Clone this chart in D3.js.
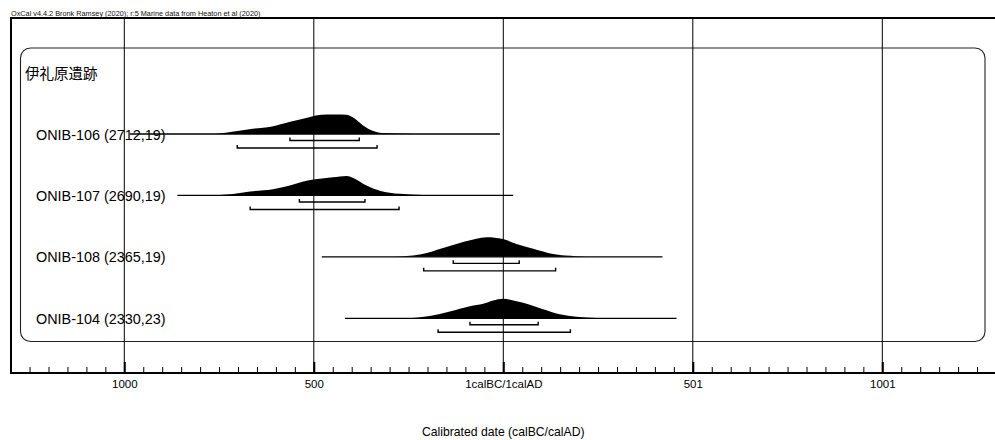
<!DOCTYPE html>
<html>
<head>
<meta charset="utf-8">
<script src="https://cdn.jsdelivr.net/npm/d3@7"></script>
<style>
body { margin: 0; background: #fff; }
text { font-family: "Liberation Sans", Arial, sans-serif; }
</style>
</head>
<body>
<script>
var canvasWidth = 995, canvasHeight = 440;

var groupName = "伊礼原遺跡";
var rowNames = ["ONIB-106 (2712,19)", "ONIB-107 (2690,19)", "ONIB-108 (2365,19)", "ONIB-104 (2330,23)"];
var rangeStart = [-985, -860, -479, -418];
var rangeEnd = [-9, 26, 420, 457];
var hpd68 = [[-563, -380], [-538, -365], [-132, 42], [-88, 92]];
var hpd95 = [[-702, -333], [-668, -275], [-210, 138], [-172, 177]];

var years106 = [-760, -715, -670, -610, -565, -520, -495, -465, -440, -415, -395, -370, -345, -320, -255, -210];
var prob106  = [0, 0.12, 0.25, 0.38, 0.61, 0.82, 0.95, 1.0, 1.0, 0.99, 0.83, 0.44, 0.17, 0.05, 0.015, 0];
var years107 = [-783, -713, -668, -608, -563, -519, -484, -450, -413, -397, -361, -326, -273, -212, -149];
var prob107  = [0, 0.07, 0.2, 0.32, 0.51, 0.75, 0.85, 0.93, 1.0, 0.91, 0.51, 0.24, 0.08, 0.025, 0];
var years108 = [-291, -220, -159, -115, -71, -44, -1, 35, 79, 131, 193, 246];
var prob108  = [0, 0.12, 0.46, 0.71, 0.93, 1.0, 0.91, 0.66, 0.42, 0.15, 0.035, 0];
var years104 = [-255, -194, -141, -88, -53, -27, -1, 35, 70, 105, 149, 193, 246, 289];
var prob104  = [0, 0.12, 0.35, 0.62, 0.74, 0.91, 1.0, 0.88, 0.7, 0.47, 0.21, 0.08, 0.015, 0];

var distYears = [years106, years107, years108, years104];
var distProbs = [prob106, prob107, prob108, prob104];

var majorTicks = [-1000, -500, 0, 500, 1000];
var majorLabels = ["1000", "500", "1calBC/1calAD", "501", "1001"];
var minorTicks = [-1250, -1200, -1150, -1100, -1050, -950, -900, -850, -800, -750, -700, -650, -600, -550,
                  -450, -400, -350, -300, -250, -200, -150, -100, -50,
                  50, 100, 150, 200, 250, 300, 350, 400, 450,
                  550, 600, 650, 700, 750, 800, 850, 900, 950,
                  1050, 1100, 1150, 1200, 1250];

var frameLeft = 11, frameTop = 18, axisY = 373;

var svg = d3.select("body")
			.append("svg")
			.attr("width", canvasWidth)
			.attr("height", canvasHeight);

var x = d3.scaleLinear().domain([-1000, 1000]).range([124.3, 882.3]);
var y = d3.scalePoint().domain(rowNames).range([134, 318.3]);
var h = d3.scaleLinear().domain([0, 1]).range([0, 19.5]);

// header
svg.append("text")
	.attr("x", 11)
	.attr("y", 16)
	.style("font-size", "7.3px")
	.style("fill", "#111")
	.text("OxCal v4.4.2 Bronk Ramsey (2020); r:5 Marine data from Heaton et al (2020)");

// rounded group box
svg.append("rect")
	.attr("x", 20.5)
	.attr("y", 48)
	.attr("width", 964.5)
	.attr("height", 293.5)
	.attr("rx", 10)
	.attr("ry", 10)
	.style("fill", "none")
	.style("stroke", "#222")
	.style("stroke-width", 1.1);

svg.append("text")
	.attr("x", 25)
	.attr("y", 78.5)
	.style("font-family", "'Noto Sans CJK JP', sans-serif")
	.style("font-size", "14.5px")
	.text(groupName);

// row labels
svg.selectAll(".rowLabel")
	.data(rowNames)
	.enter()
	.append("text")
	.attr("class", "rowLabel")
	.attr("x", 36)
	.attr("y", function(d) { return y(d) + 5.5; })
	.style("font-size", "14.4px")
	.text(function(d) { return d; });

// distributions
var area = d3.area()
	.x(function(d) { return x(d[0]); })
	.y0(0)
	.y1(function(d) { return -h(d[1]); })
	.curve(d3.curveMonotoneX);

rowNames.forEach(function(name, i) {
	var g = svg.append("g").attr("transform", "translate(0," + y(name) + ")");
	var pts = d3.zip(distYears[i], distProbs[i]);

	g.append("path")
		.attr("d", area(pts))
		.style("fill", "#000");

	g.append("line")
		.attr("x1", x(rangeStart[i]))
		.attr("x2", x(rangeEnd[i]))
		.attr("y1", 0)
		.attr("y2", 0)
		.style("stroke", "#000")
		.style("stroke-width", 1.3);

	[[hpd68[i], 6.5], [hpd95[i], 14]].forEach(function(b) {
		var r = b[0], off = b[1];
		g.append("path")
			.attr("d", "M" + x(r[0]) + "," + (off - 3) + "V" + off + "H" + x(r[1]) + "V" + (off - 3))
			.style("fill", "none")
			.style("stroke", "#000")
			.style("stroke-width", 1.4);
	});
});

// grid lines, drawn over the distributions
svg.selectAll(".grid")
	.data(majorTicks)
	.enter()
	.append("line")
	.attr("class", "grid")
	.attr("x1", function(d) { return x(d); })
	.attr("x2", function(d) { return x(d); })
	.attr("y1", frameTop)
	.attr("y2", axisY)
	.style("stroke", "#000")
	.style("stroke-width", 1);

// frame
svg.append("path")
	.attr("d", "M" + canvasWidth + "," + frameTop + "H" + frameLeft + "V" + axisY + "H" + canvasWidth)
	.style("fill", "none")
	.style("stroke", "#000")
	.style("stroke-width", 2);

// axis
var minorAxis = d3.axisBottom(x).tickValues(minorTicks).tickSize(-6).tickFormat("");
var majorAxis = d3.axisBottom(x).tickValues(majorTicks).tickSize(-11).tickPadding(7)
	.tickFormat(function(d, i) { return majorLabels[i]; });

var gMinor = svg.append("g").attr("transform", "translate(0," + axisY + ")").call(minorAxis);
gMinor.select(".domain").remove();
gMinor.selectAll("line").style("stroke", "#000").style("stroke-width", 1);

var gMajor = svg.append("g").attr("transform", "translate(0," + axisY + ")").call(majorAxis);
gMajor.select(".domain").remove();
gMajor.selectAll("line").style("stroke", "#000").style("stroke-width", 2);
gMajor.selectAll("text")
	.style("font-family", "'Liberation Sans', Arial, sans-serif")
	.style("font-size", "11.5px")
	.style("fill", "#000");

svg.append("text")
	.attr("x", x(0))
	.attr("y", 436)
	.attr("text-anchor", "middle")
	.style("font-size", "12.2px")
	.text("Calibrated date (calBC/calAD)");
</script>
</body>
</html>
